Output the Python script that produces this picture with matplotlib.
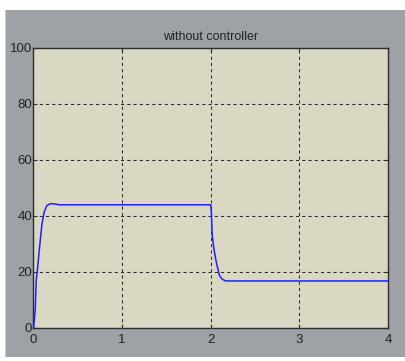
import matplotlib.pyplot as plt
from matplotlib.patches import Rectangle

# step response samples (time in s, output)
t_rise = [0.0, 0.01, 0.02, 0.03, 0.045, 0.068, 0.095, 0.12, 0.15, 0.19, 0.24, 0.29]
y_rise = [0.0, 3.0, 6.7, 16.8, 21.0, 28.7, 37.0, 41.3, 43.7, 44.4, 44.3, 44.0]
t_drop = [2.0, 2.008, 2.016, 2.034, 2.053, 2.072, 2.1, 2.13, 2.17, 4.0]
y_drop = [44.0, 40.7, 33.5, 28.7, 25.1, 22.2, 18.6, 17.4, 16.8, 16.8]

t = t_rise + t_drop
y = y_rise + y_drop

x_ticks = [0, 1, 2, 3, 4]
y_ticks = [0, 20, 40, 60, 80, 100]

W, H = 406, 361
fig = plt.figure(figsize=(W / 100, H / 100), dpi=100, facecolor="white")

# window panel behind the axes
fig.patches.append(Rectangle((5 / W, 4 / H), 1 - 5 / W, 1 - 14 / H,
                             transform=fig.transFigure, facecolor="#9ca2a6",
                             edgecolor="none", zorder=-10))
fig.patches.append(Rectangle((5 / W, 4 / H), 1.2 / W, 1 - 14 / H,
                             transform=fig.transFigure, facecolor="#c6ccd2",
                             edgecolor="none", zorder=-9))

ax = fig.add_axes([33.5 / W, 1 - 328 / H, (388 - 33.5) / W, (328 - 48) / H])
ax.set_facecolor("#dad7c3")

ax.plot(t, y, color="#1f1fff", linewidth=1.1, zorder=3)

ax.set_xlim(0, 4)
ax.set_ylim(0, 100)
ax.set_xticks(x_ticks)
ax.set_yticks(y_ticks)

ax.grid(True, color="#2a2a2a", linestyle=(0, (3, 3)), linewidth=0.75)
ax.set_axisbelow(False)

for s in ax.spines.values():
    s.set_color("#2f2f2f")
    s.set_linewidth(1.0)

ax.tick_params(direction="in", length=3, width=0.8, color="#2f2f2f",
               top=True, right=True, labelsize=9.5, labelcolor="#222222")
ax.tick_params(axis="x", pad=4)
ax.tick_params(axis="y", pad=1)
for lbl in ax.get_xticklabels() + ax.get_yticklabels():
    lbl.set_fontfamily("Liberation Sans")

ax.set_title("without controller", fontsize=9, fontfamily="Liberation Sans",
             color="#222222", pad=6)

fig.savefig("out.png", dpi=100, facecolor=fig.get_facecolor())
